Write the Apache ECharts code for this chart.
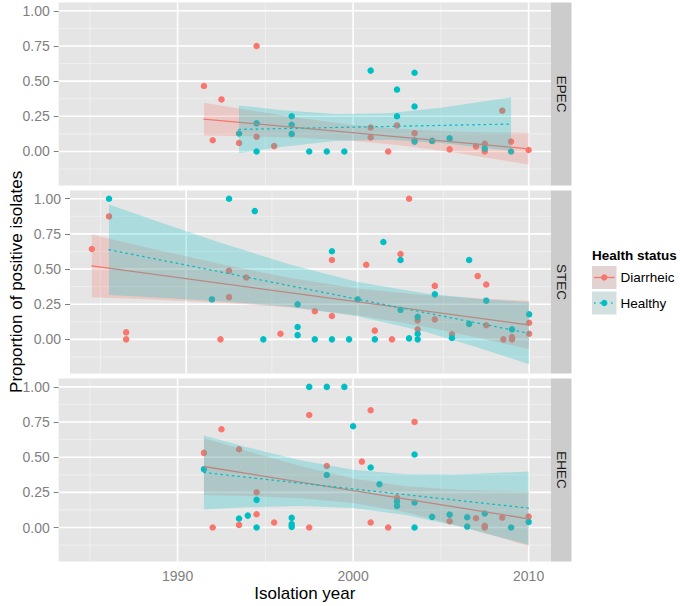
<!DOCTYPE html>
<html>
<head>
<meta charset="utf-8">
<script src="https://cdn.jsdelivr.net/npm/echarts@6/dist/echarts.min.js"></script>
<style>
  html, body { margin: 0; padding: 0; background: #fff; }
  #chart { width: 680px; height: 606px; }
</style>
</head>
<body>
<div id="chart"></div>
<script>
/* Proportion of positive isolates by year, faceted by pathotype, with linear fits. */

const panels = ['EPEC', 'STEC', 'EHEC'];
const groups = ['Diarrheic', 'Healthy'];

// ---------- Points: [year, proportion] ----------

const epecDiarrheic = [
  [1991.5, 0.465], [1992, 0.08], [1992.5, 0.37], [1993.5, 0.06], [1994.5, 0.75], [1994.5, 0.105],
  [1995.5, 0.038], [2001, 0.17], [2001, 0.1], [2002, 0], [2002.5, 0.185], [2003.5, 0.13],
  [2003.5, 0.08], [2004.5, 0.075], [2005.5, 0.015], [2007, 0.036], [2007.5, 0.055], [2007.5, 0],
  [2008.5, 0.29], [2009, 0.07], [2010, 0.01],
];
const epecHealthy = [
  [1993.5, 0.128], [1994.5, 0.2], [1994.5, 0], [1996.5, 0.25], [1996.5, 0.19], [1996.5, 0.125],
  [1997.5, 0], [1998.5, 0], [1999.5, 0], [2001, 0.575], [2002.5, 0.44], [2002.5, 0.25],
  [2003.5, 0.56], [2003.5, 0.32], [2003.5, 0.07], [2004.5, 0.075], [2005.5, 0.093], [2007.5, 0.02],
  [2009, 0],
];
const stecDiarrheic = [
  [1984.5, 0.642], [1985.5, 0.874], [1986.5, 0.05], [1986.5, 0], [1992, 0], [1992.5, 0.488],
  [1992.5, 0.3], [1993.5, 0.44], [1995.5, 0.04], [1997.5, 0.2], [1998.5, 0.564], [1998.5, 0.166],
  [2000.5, 0.53], [2001, 0.062], [2002, 0], [2002.5, 0.607], [2003, 1.0], [2003.5, 0.135],
  [2003.5, 0.071], [2004.5, 0.38], [2004.5, 0.142], [2005.5, 0.036], [2007, 0.45], [2007.5, 0.39],
  [2007.5, 0.1], [2008.5, 0], [2009, 0.017], [2009, 0], [2010, 0.118], [2010, 0.04],
];
const stecHealthy = [
  [1985.5, 1.0], [1991.5, 0.284], [1992.5, 1.0], [1994, 0.912], [1994.5, 0], [1996.5, 0.249],
  [1996.5, 0.088], [1996.5, 0.03], [1997.5, 0], [1998.5, 0.626], [1998.5, 0], [1999.5, 0],
  [2000, 0.284], [2001, 0], [2001.5, 0.692], [2002.5, 0.564], [2002.5, 0.21], [2003, 0.007],
  [2003.5, 0.16], [2003.5, 0.04], [2003.5, 0], [2004.5, 0.32], [2005.5, 0.01], [2006.5, 0.564],
  [2006.5, 0.11], [2007.5, 0.275], [2009, 0.071], [2010, 0.178],
];
const ehecDiarrheic = [
  [1991.5, 0.531], [1992, 0], [1992.5, 0.699], [1993.5, 0.557], [1993.5, 0.019], [1994.5, 0.251],
  [1994.5, 0.095], [1995.5, 0.036], [1997.5, 0.8], [1997.5, 0], [1998.5, 0.438], [2000.5, 0.469],
  [2001, 0.834], [2001, 0.036], [2002, 0], [2002.5, 0.211], [2003.5, 0.751], [2005.5, 0.045],
  [2007, 0.066], [2007.5, 0.012], [2007.5, 0], [2008.5, 0.071], [2010, 0.078],
];
const ehecHealthy = [
  [1991.5, 0.415], [1993.5, 0.064], [1994, 0.085], [1994.5, 0.197], [1994.5, 0], [1996.5, 0.069],
  [1996.5, 0.024], [1996.5, 0.005], [1997.5, 1.0], [1998.5, 1.0], [1998.5, 0.374], [1999.5, 1.0],
  [2000, 0.72], [2001, 0.427], [2001.5, 0.308], [2002.5, 0.185], [2002.5, 0.154], [2003.5, 0.519],
  [2003.5, 0.178], [2003.5, 0], [2004.5, 0.076], [2005.5, 0.092], [2006.5, 0.073], [2006.5, 0.007],
  [2007.5, 0.1], [2009, 0], [2010, 0.04],
];

// ---------- Fitted lines: [start, end] as [year, proportion] ----------

const epecDiarrheicFit = [[1991.5, 0.23], [2010, 0.019]];
const epecHealthyFit = [[1993.5, 0.157], [2009, 0.195]];
const stecDiarrheicFit = [[1984.5, 0.522], [2010, 0.102]];
const stecHealthyFit = [[1985.5, 0.637], [2010, 0.043]];
const ehecDiarrheicFit = [[1991.5, 0.434], [2010, 0.062]];
const ehecHealthyFit = [[1991.5, 0.391], [2010, 0.138]];

// ---------- Confidence bands: [year, lower, upper] ----------

const epecDiarrheicBand = [
  [1991.5, 0.114, 0.347], [1994, 0.108, 0.295], [1997, 0.097, 0.237], [2000, 0.077, 0.189],
  [2003, 0.039, 0.158], [2006, -0.013, 0.141], [2010, -0.093, 0.131],
];
const epecHealthyBand = [
  [1993.5, -0.013, 0.327], [1996, 0.033, 0.293], [1999, 0.074, 0.266], [2002, 0.084, 0.272],
  [2005, 0.06, 0.31], [2009, 0.005, 0.385],
];
const stecDiarrheicBand = [
  [1984.5, 0.299, 0.745], [1988, 0.283, 0.645], [1992, 0.26, 0.536], [1996, 0.228, 0.438],
  [2000, 0.172, 0.362], [2004, 0.088, 0.314], [2007, 0.012, 0.292], [2010, -0.07, 0.274],
];
const stecHealthyBand = [
  [1985.5, 0.315, 0.959], [1988, 0.30, 0.852], [1992, 0.271, 0.687], [1996, 0.232, 0.534],
  [2000, 0.165, 0.407], [2004, 0.052, 0.326], [2007, -0.057, 0.289], [2010, -0.177, 0.263],
];
const ehecDiarrheicBand = [
  [1991.5, 0.232, 0.636], [1994, 0.224, 0.542], [1997, 0.208, 0.437], [2000, 0.175, 0.349],
  [2003, 0.108, 0.294], [2006, 0.013, 0.269], [2010, -0.131, 0.255],
];
const ehecHealthyBand = [
  [1991.5, 0.128, 0.654], [1994, 0.144, 0.570], [1997, 0.153, 0.479], [2000, 0.139, 0.411],
  [2003, 0.089, 0.379], [2006, 0.009, 0.377], [2010, -0.122, 0.398],
];

// ---------- Ticks ----------

const xTicks = [1990, 2000, 2010];
const xMinor = [1985, 1995, 2005];
const yTicks = [0, 0.25, 0.5, 0.75, 1];
const yMinor = [-0.125, 0.125, 0.375, 0.625, 0.875];

const X_MIN = 1983.225, X_MAX = 2011.275;
const Y_MIN = -0.242, Y_MAX = 1.059;

const palette = {
  red: '#F8766D',
  cyan: '#00BFC4',
  redBand: 'rgba(248,118,109,0.25)',
  cyanBand: 'rgba(0,191,196,0.25)',
  panel: '#E5E5E5',
  minor: '#F2F2F2',
  strip: '#CCCCCC',
  axisText: '#7F7F7F',
  ink: '#000000',
};
const FONT = '"Liberation Sans", Arial, sans-serif';

const layout = { left: 58.7, width: 492.3, tops: [2.5, 190.4, 378.6], height: 183, stripW: 20.5 };

const facetData = [
  { pts: [epecDiarrheic, epecHealthy], fit: [epecDiarrheicFit, epecHealthyFit], band: [epecDiarrheicBand, epecHealthyBand] },
  { pts: [stecDiarrheic, stecHealthy], fit: [stecDiarrheicFit, stecHealthyFit], band: [stecDiarrheicBand, stecHealthyBand] },
  { pts: [ehecDiarrheic, ehecHealthy], fit: [ehecDiarrheicFit, ehecHealthyFit], band: [ehecDiarrheicBand, ehecHealthyBand] },
];

// ---------- Series builders ----------

function gridLineSeries(gi) {
  const data = [];
  xMinor.forEach((v) => data.push([v, 1, 0]));
  yMinor.forEach((v) => data.push([v, 0, 0]));
  xTicks.forEach((v) => data.push([v, 1, 1]));
  yTicks.forEach((v) => data.push([v, 0, 1]));
  return {
    type: 'custom', xAxisIndex: gi, yAxisIndex: gi, z: 1, silent: true,
    data,
    renderItem(params, api) {
      const cs = params.coordSys;
      const v = api.value(0), isX = api.value(1), major = api.value(2);
      const style = { stroke: major ? '#FFFFFF' : palette.minor, lineWidth: major ? 1.6 : 0.8 };
      if (isX) {
        const px = api.coord([v, 0])[0];
        return { type: 'line', shape: { x1: px, y1: cs.y, x2: px, y2: cs.y + cs.height }, style };
      }
      const py = api.coord([X_MIN, v])[1];
      return { type: 'line', shape: { x1: cs.x, y1: py, x2: cs.x + cs.width, y2: py }, style };
    },
  };
}

function bandSeries(band, fill, gi, z) {
  return {
    type: 'custom', xAxisIndex: gi, yAxisIndex: gi, z, silent: true,
    data: band,
    encode: { x: 0, y: [1, 2] },
    renderItem(params, api) {
      if (params.dataIndex !== 0) return null;
      const upper = band.map((b) => api.coord([b[0], b[2]]));
      const lower = band.map((b) => api.coord([b[0], b[1]])).reverse();
      return { type: 'polygon', shape: { points: upper.concat(lower) }, style: { fill } };
    },
  };
}

function fitSeries(fit, color, dotted, gi, z) {
  return {
    type: 'line', xAxisIndex: gi, yAxisIndex: gi, z, silent: true,
    data: fit, showSymbol: false,
    lineStyle: { color, width: 1.3, type: dotted ? [1.5, 4.2] : 'solid', cap: 'round' },
  };
}

function pointSeries(pts, color, name, gi) {
  return {
    type: 'scatter', name, xAxisIndex: gi, yAxisIndex: gi, z: 2, silent: true,
    data: pts, symbolSize: 6.5, itemStyle: { color, opacity: 1 },
  };
}

const series = [];
facetData.forEach((f, gi) => {
  series.push(gridLineSeries(gi));
  series.push(pointSeries(f.pts[0], palette.red, groups[0], gi));
  series.push(pointSeries(f.pts[1], palette.cyan, groups[1], gi));
  series.push(bandSeries(f.band[0], palette.redBand, gi, 3));
  series.push(fitSeries(f.fit[0], palette.red, false, gi, 4));
  series.push(bandSeries(f.band[1], palette.cyanBand, gi, 5));
  series.push(fitSeries(f.fit[1], palette.cyan, true, gi, 6));
});

const grids = layout.tops.map((top) => ({
  left: layout.left, top, width: layout.width, height: layout.height,
  show: true, backgroundColor: palette.panel, borderWidth: 0, containLabel: false,
}));

const xAxes = layout.tops.map((_, i) => ({
  type: 'value', gridIndex: i, min: X_MIN, max: X_MAX,
  axisLine: { show: false }, splitLine: { show: false },
  axisTick: { show: i === 2, customValues: xTicks, length: 5, lineStyle: { color: palette.axisText } },
  axisLabel: {
    show: i === 2, customValues: xTicks, color: palette.axisText, fontSize: 14, fontFamily: FONT, margin: 7,
    formatter: (v) => String(Math.round(v)),
  },
  name: i === 2 ? 'Isolation year' : '',
  nameLocation: 'middle', nameGap: 23, nameMoveOverlap: false,
  nameTextStyle: { color: palette.ink, fontSize: 17, fontFamily: FONT },
}));

const yAxes = layout.tops.map((_, i) => ({
  type: 'value', gridIndex: i, min: Y_MIN, max: Y_MAX,
  axisLine: { show: false }, splitLine: { show: false },
  axisTick: { show: true, customValues: yTicks, length: 5, lineStyle: { color: palette.axisText } },
  axisLabel: {
    customValues: yTicks, color: palette.axisText, fontSize: 14, fontFamily: FONT, margin: 9,
    formatter: (v) => Number(v).toFixed(2),
  },
  name: i === 1 ? 'Proportion of positive isolates' : '',
  nameLocation: 'middle', nameGap: 45, nameMoveOverlap: false,
  nameTextStyle: { color: palette.ink, fontSize: 17, fontFamily: FONT },
}));

// ---------- Strips and legend ----------

const graphic = [];
const stripX = layout.left + layout.width;
layout.tops.forEach((top, i) => {
  graphic.push({
    type: 'rect', silent: true,
    shape: { x: stripX, y: top, width: layout.stripW, height: layout.height },
    style: { fill: palette.strip },
  });
  graphic.push({
    type: 'text', silent: true,
    x: stripX + layout.stripW / 2, y: top + layout.height / 2, rotation: -Math.PI / 2,
    style: { text: panels[i], fill: '#1A1A1A', font: `13.5px ${FONT}`, align: 'center', verticalAlign: 'middle' },
  });
});

const legendX = 592, legendKeyW = 24.5, legendKeyH = 23;
const legendKeys = [
  { label: groups[0], color: palette.red, bg: '#E2D3D2', dotted: false, y: 266 },
  { label: groups[1], color: palette.cyan, bg: '#D2E0E0', dotted: true, y: 291.5 },
];
graphic.push({
  type: 'text', silent: true, x: legendX, y: 255,
  style: { text: 'Health status', fill: palette.ink, font: `bold 13.5px ${FONT}`, verticalAlign: 'middle' },
});
legendKeys.forEach((k) => {
  const cy = k.y + legendKeyH / 2;
  graphic.push({
    type: 'rect', silent: true,
    shape: { x: legendX, y: k.y, width: legendKeyW, height: legendKeyH },
    style: { fill: k.bg },
  });
  graphic.push({
    type: 'line', silent: true,
    shape: { x1: legendX + 2, y1: cy, x2: legendX + legendKeyW - 2, y2: cy },
    style: { stroke: k.color, lineWidth: 1.3, lineDash: k.dotted ? [1.5, 4.2] : null },
  });
  graphic.push({
    type: 'circle', silent: true,
    shape: { cx: legendX + legendKeyW / 2, cy, r: 3.2 },
    style: { fill: k.color },
  });
  graphic.push({
    type: 'text', silent: true, x: legendX + legendKeyW + 4, y: cy,
    style: { text: k.label, fill: palette.ink, font: `13.5px ${FONT}`, verticalAlign: 'middle' },
  });
});

const chart = echarts.init(document.getElementById('chart'), null, { renderer: 'svg' });
chart.setOption({
  animation: false,
  backgroundColor: '#FFFFFF',
  textStyle: { fontFamily: FONT },
  grid: grids,
  xAxis: xAxes,
  yAxis: yAxes,
  series,
  graphic,
});
</script>
</body>
</html>
